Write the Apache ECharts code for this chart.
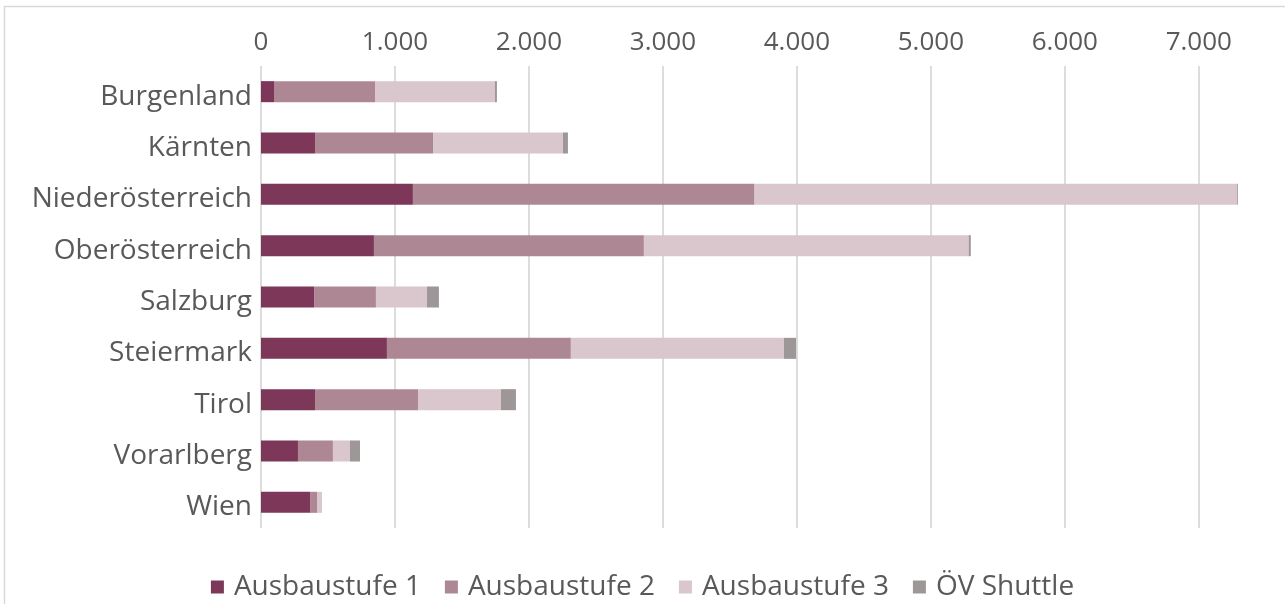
<!DOCTYPE html>
<html style="height: 100%">
  <head>
    <meta charset="utf-8" />
  </head>
  <body style="height: 100%; margin: 0; background: #fff">
    <div id="container" style="width: 1285px; height: 604px"></div>

    <script
      type="text/javascript"
      src="https://cdn.jsdelivr.net/npm/echarts@6/dist/echarts.min.js"
    ></script>

    <script type="text/javascript">
      var dom = document.getElementById("container");
      var myChart = echarts.init(dom);

      // Bundesländer, top to bottom
      var regions = [
        "Burgenland",
        "Kärnten",
        "Niederösterreich",
        "Oberösterreich",
        "Salzburg",
        "Steiermark",
        "Tirol",
        "Vorarlberg",
        "Wien",
      ];
      var stufe1 = [97, 403, 1134, 843, 396, 940, 403, 276, 366];
      var stufe2 = [754, 881, 2550, 2015, 462, 1373, 769, 261, 52];
      var stufe3 = [895, 970, 3602, 2424, 381, 1590, 619, 127, 37];
      var shuttle = [15, 37, 6, 16, 89, 91, 112, 75, 0];

      var seriesNames = ["Ausbaustufe 1", "Ausbaustufe 2", "Ausbaustufe 3", "ÖV Shuttle"];
      var colors = ["#7d3758", "#ae8795", "#d9c7cd", "#9e9797"];
      var values = [stufe1, stufe2, stufe3, shuttle];

      var textColor = "#595959";
      var font = "Open Sans";

      function fmt(v) {
        return String(v).replace(/\B(?=(\d{3})+(?!\d))/g, ".");
      }

      var option = {
        animation: false,
        color: colors,
        graphic: [
          {
            type: "rect",
            shape: { x: 4.5, y: 6.5, width: 1400, height: 800 },
            style: { fill: "none", stroke: "#d9d9d9", lineWidth: 1.5 },
            silent: true,
          },
        ],
        grid: {
          left: 261,
          right: 46,
          top: 66,
          bottom: 76,
          containLabel: false,
        },
        legend: {
          top: 568,
          left: "center",
          itemWidth: 13,
          itemHeight: 13,
          itemGap: 24,
          icon: "rect",
          textStyle: { color: textColor, fontFamily: font, fontSize: 28, padding: [0, 0, 0, 5] },
          data: seriesNames,
        },
        xAxis: {
          type: "value",
          position: "top",
          min: 0,
          max: 7300,
          interval: 1000,
          axisLine: { show: false },
          axisTick: { show: false },
          axisLabel: {
            color: textColor,
            fontFamily: font,
            fontSize: 26,
            margin: 10,
            showMaxLabel: false,
            formatter: fmt,
          },
          splitLine: {
            showMaxLine: false,
            lineStyle: { color: "#dcdcdc", width: 2 },
          },
        },
        yAxis: {
          type: "category",
          inverse: true,
          data: regions,
          axisLine: { show: false },
          axisTick: { show: false },
          axisLabel: {
            margin: 9,
            formatter: function (v) {
              return "{n|" + v + "}";
            },
            rich: {
              n: {
                color: textColor,
                fontFamily: font,
                fontSize: 28,
                padding: [10, 0, 0, 0],
              },
            },
          },
        },
        series: values.map(function (arr, i) {
          return {
            name: seriesNames[i],
            type: "bar",
            stack: "total",
            barCategoryGap: "59%",
            data: arr,
          };
        }),
      };

      if (option && typeof option === "object") {
        myChart.setOption(option);
      }
    </script>
  </body>
</html>
